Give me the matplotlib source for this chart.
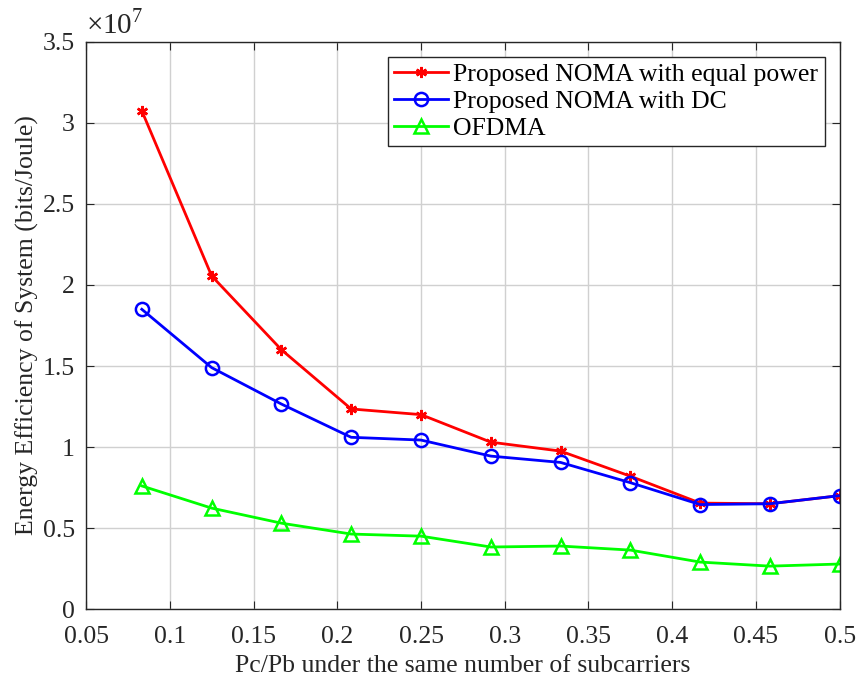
import numpy as np
import matplotlib
matplotlib.use('Agg')
import matplotlib.pyplot as plt

plt.rcParams['font.family'] = ['Liberation Serif', 'DejaVu Serif']
plt.rcParams['mathtext.fontset'] = 'custom'
plt.rcParams['mathtext.rm'] = 'Liberation Serif'

ratio = [0.0833, 0.125, 0.1667, 0.2083, 0.25, 0.2917, 0.3333, 0.375, 0.4167, 0.4583, 0.5]
ee_equal = [3.075, 2.056, 1.60, 1.235, 1.20, 1.03, 0.975, 0.82, 0.654, 0.65, 0.70]
ee_dc = [1.85, 1.49, 1.265, 1.06, 1.043, 0.944, 0.905, 0.78, 0.645, 0.65, 0.70]
ee_ofdma = [0.76, 0.623, 0.53, 0.463, 0.45, 0.383, 0.389, 0.364, 0.29, 0.265, 0.278]

scale = 1e7
fs = 18.5

fig = plt.figure(figsize=(8.63, 6.76), dpi=100)
ax = fig.add_axes([0.0997, 0.099, 0.8733, 0.839])

ax.plot(ratio, np.array(ee_equal) * scale, color='#ff0000', lw=2, marker=(6, 2, 0),
        ms=8, mew=1.8, label='Proposed NOMA with equal power')
ax.plot(ratio, np.array(ee_dc) * scale, color='#0000ff', lw=2, marker='o', ms=9.5,
        mfc='none', mew=1.8, label='Proposed NOMA with DC')
ax.plot(ratio, np.array(ee_ofdma) * scale, color='#00ff00', lw=2, marker='^', ms=10,
        mfc='none', mew=1.8, label='OFDMA')

ax.set_xlim(0.05, 0.5)
ax.set_ylim(0, 3.5e7)
ax.set_xticks(np.arange(0.05, 0.501, 0.05))
ax.set_xticklabels(['0.05', '0.1', '0.15', '0.2', '0.25', '0.3', '0.35', '0.4', '0.45', '0.5'])
ax.set_yticks(np.arange(0, 3.51e7, 0.5e7))
ax.set_yticklabels(['0', '0.5', '1', '1.5', '2', '2.5', '3', '3.5'])
ax.text(0.0, 1.005, r'$\times 10^{7}$', transform=ax.transAxes, fontsize=21,
        ha='left', va='bottom', color='#262626')

ax.grid(True, color='#d0d0d0', lw=1)
ax.set_axisbelow(True)
ax.tick_params(direction='in', top=True, right=True, labelsize=fs, length=6,
               color='#262626', labelcolor='#262626')
ax.tick_params(axis='x', pad=12)
ax.tick_params(axis='y', pad=8)
for s in ax.spines.values():
    s.set_color('#262626')
    s.set_linewidth(1)

ax.set_xlabel('Pc/Pb under the same number of subcarriers', fontsize=fs, color='#262626',
              labelpad=5)
ax.set_ylabel('Energy Efficiency of System (bits/Joule)', fontsize=fs, color='#262626',
              labelpad=3)

leg = ax.legend(loc='upper right', fontsize=fs, fancybox=False, edgecolor='#262626',
                framealpha=1, borderpad=0.25, handlelength=2.1, handletextpad=0.2,
                labelspacing=0.15, borderaxespad=0.58)
leg.get_frame().set_linewidth(1)

fig.savefig('out.png', dpi=100)
plt.close()
